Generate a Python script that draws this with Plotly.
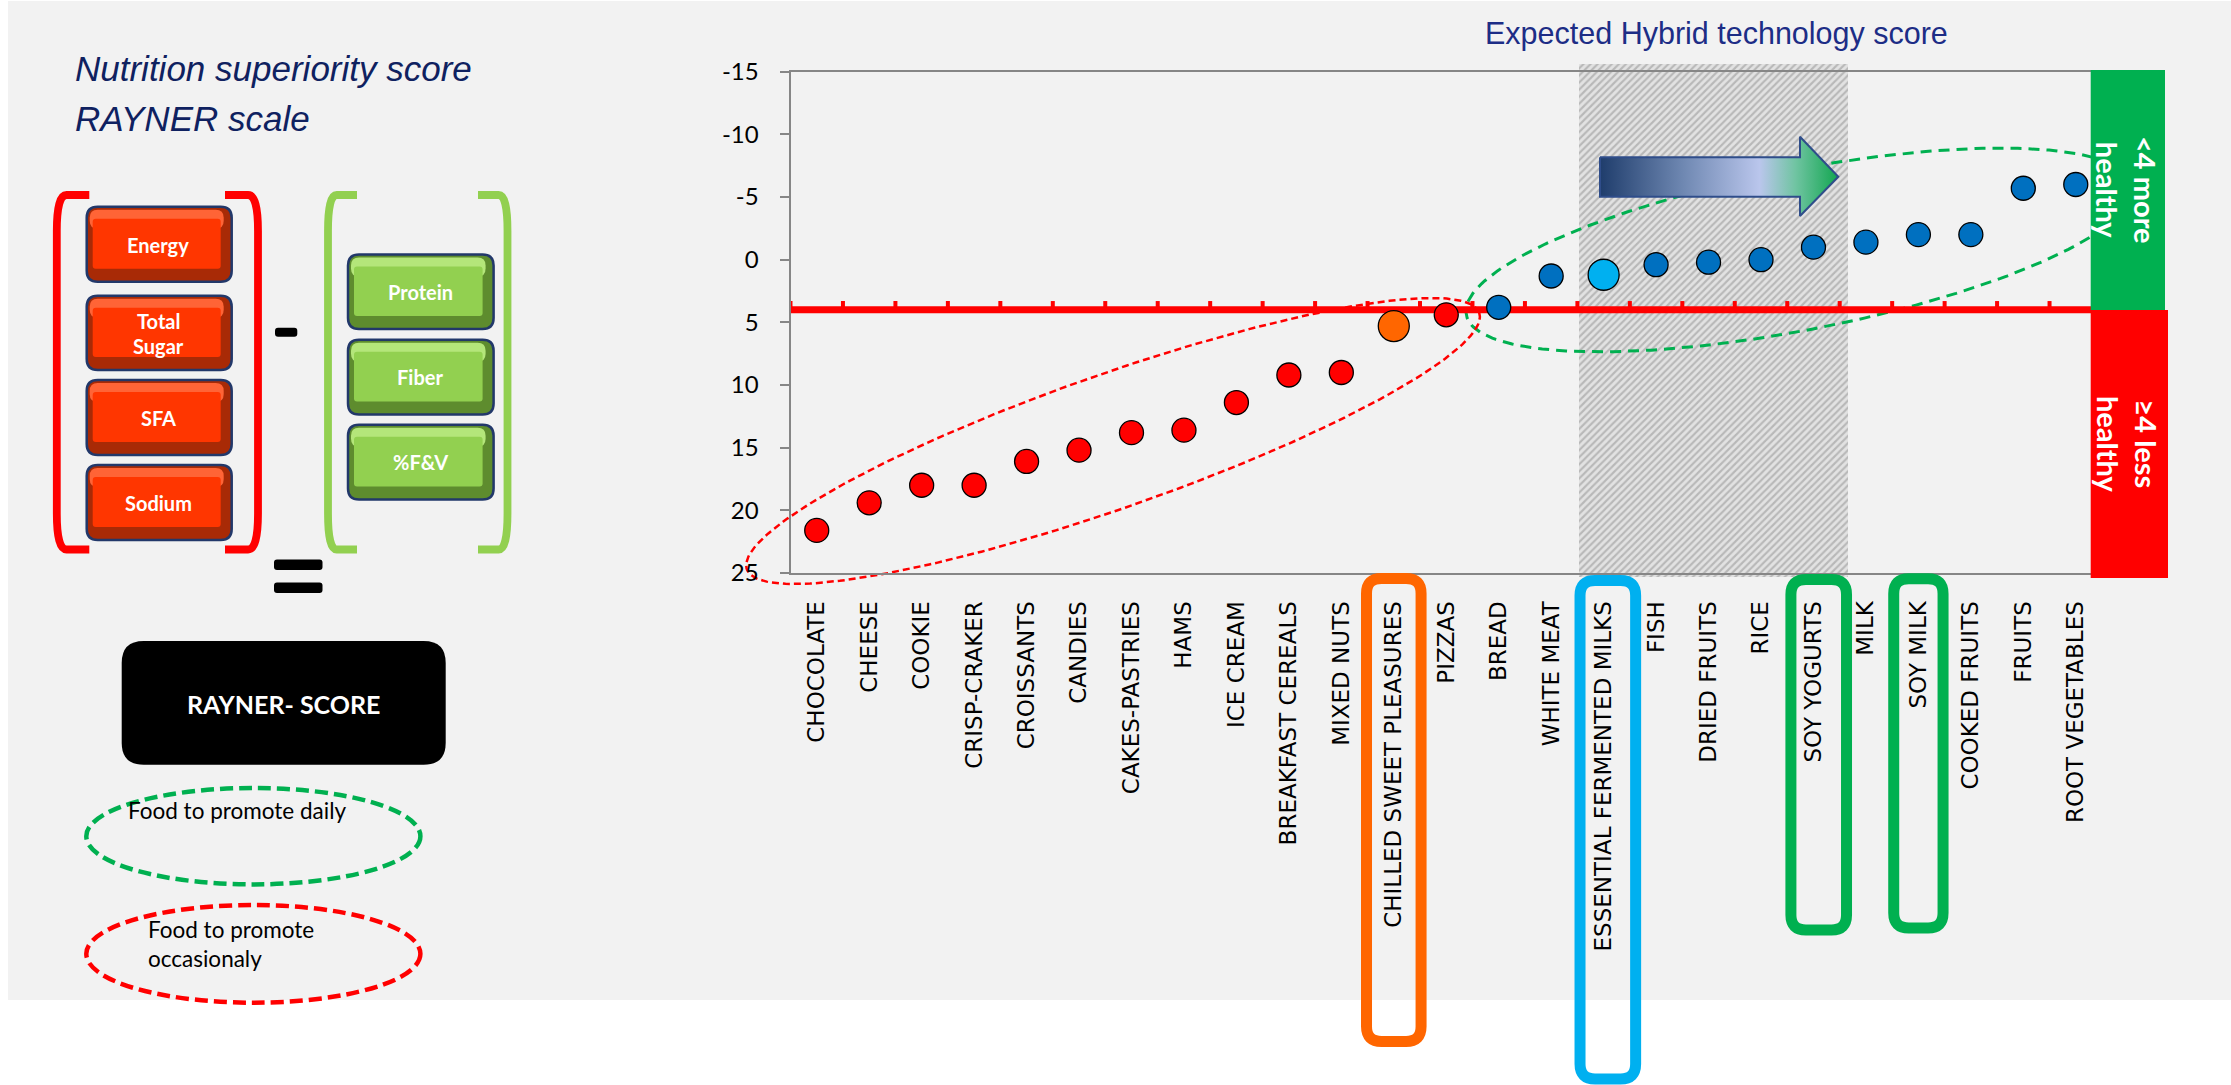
import numpy as np
import plotly.graph_objects as go

W, H = 2231, 1085

# ---------------- data ----------------
categories = ["CHOCOLATE", "CHEESE", "COOKIE", "CRISP-CRAKER", "CROISSANTS", "CANDIES",
              "CAKES-PASTRIES", "HAMS", "ICE CREAM", "BREAKFAST CEREALS", "MIXED NUTS",
              "CHILLED SWEET PLEASURES", "PIZZAS", "BREAD", "WHITE MEAT",
              "ESSENTIAL FERMENTED MILKS", "FISH", "DRIED FRUITS", "RICE", "SOY YOGURTS",
              "MILK", "SOY MILK", "COOKED FRUITS", "FRUITS", "ROOT VEGETABLES"]
rayner_scores = [21.6, 19.4, 18.0, 18.0, 16.1, 15.2, 13.8, 13.6, 11.4, 9.2, 9.0,
                 5.3, 4.4, 3.8, 1.3, 1.2, 0.4, 0.2, 0.0, -1.0, -1.4, -2.0, -2.0, -5.7, -6.0]
threshold = 4
y_tick_values = [-15, -10, -5, 0, 5, 10, 15, 20, 25]
y_tick_labels = ["-15", "-10", "-5", "0", "5", "10", "15", "20", "25"]
negative_factors = ["Energy", "Total<br>Sugar", "SFA", "Sodium"]
positive_factors = ["Protein", "Fiber", "%F&V"]

# ---------------- styles ----------------
RED, BLUE, ORANGE, LBLUE = "#FF0000", "#0070C0", "#FF6600", "#00B0F0"
GREEN, LGREEN = "#00B050", "#92D050"
highlight = {"CHILLED SWEET PLEASURES": ORANGE, "ESSENTIAL FERMENTED MILKS": LBLUE}
colors = [highlight.get(c, RED if s >= threshold else BLUE) for c, s in zip(categories, rayner_scores)]
sizes = [31 if c in highlight else 24 for c in categories]

# main plot area in pixels
PX0, PX1, PY0, PY1 = 790.5, 2102.0, 71.7, 573.0
ncat = len(categories)


def rr(x0, y0, x1, y1, rx, ry=None):
    ry = rx if ry is None else ry
    return (f"M{x0+rx},{y0} L{x1-rx},{y0} Q{x1},{y0} {x1},{y0+ry} L{x1},{y1-ry} "
            f"Q{x1},{y1} {x1-rx},{y1} L{x0+rx},{y1} Q{x0},{y1} {x0},{y1-ry} "
            f"L{x0},{y0+ry} Q{x0},{y0} {x0+rx},{y0} Z")


def ellipse_xy(cx, cy, a, b, deg, n=240):
    t = np.linspace(0, 2 * np.pi, n)
    th = np.radians(deg)
    x = cx + a * np.cos(t) * np.cos(th) - b * np.sin(t) * np.sin(th)
    y = cy + a * np.cos(t) * np.sin(th) + b * np.sin(t) * np.cos(th)
    return x, y


fig = go.Figure()

# hatched "expected hybrid" band (pixel overlay axes, drawn under the chart)
fig.add_trace(go.Scatter(
    x=[1579, 1848, 1848, 1579, 1579], y=[64, 64, 577, 577, 64],
    mode="lines", line=dict(width=0), fill="toself",
    fillpattern=dict(shape="/", fgcolor="#8E8E8E", bgcolor="#E2E2E2", size=5, solidity=0.42),
    xaxis="x", yaxis="y", hoverinfo="skip"))

# green dashed ellipse around healthy foods
ex, ey = ellipse_xy(1800, 250, 340, 80, -11)
fig.add_trace(go.Scatter(x=ex, y=ey, mode="lines",
                         line=dict(color=GREEN, width=3, dash="11px,7px"),
                         xaxis="x", yaxis="y", hoverinfo="skip"))
# red dashed ellipse around less healthy foods
ex, ey = ellipse_xy(1113, 441, 388, 67, -19.3)
fig.add_trace(go.Scatter(x=ex, y=ey, mode="lines",
                         line=dict(color=RED, width=2.5, dash="7px,4px"),
                         xaxis="x", yaxis="y", hoverinfo="skip"))

# gradient arrow
fig.add_trace(go.Scatter(
    x=[1600, 1800, 1800, 1838.3, 1800, 1800, 1600, 1600],
    y=[157.3, 157.3, 136.7, 176.7, 216, 196.7, 196.7, 157.3],
    mode="lines", line=dict(color="#2F4D8A", width=2), fill="toself",
    fillgradient=dict(type="horizontal",
                      colorscale=[[0, "#1F3D6C"], [0.35, "#6F88B2"], [0.67, "#BAC6EC"],
                                  [0.82, "#70C4A2"], [1, "#12A650"]]),
    xaxis="x", yaxis="y", hoverinfo="skip"))

# the data points
fig.add_trace(go.Scatter(
    x=list(range(ncat)), y=rayner_scores, mode="markers",
    marker=dict(color=colors, size=sizes, opacity=1, line=dict(color="#000000", width=1.3)),
    xaxis="x2", yaxis="y2", hoverinfo="skip", cliponaxis=False))

shapes = []
# gray background panel
shapes.append(dict(type="rect", xref="paper", yref="paper", x0=8 / W, x1=1, y0=1 - 1000 / H, y1=1 - 1 / H,
                   fillcolor="#F2F2F2", line=dict(width=0), layer="below"))
# red threshold line with ticks
shapes.append(dict(type="line", xref="x2", yref="y2", x0=-0.5, x1=ncat - 0.5, y0=threshold, y1=threshold,
                   line=dict(color=RED, width=7), layer="below"))
for i in range(ncat + 1):
    shapes.append(dict(type="line", xref="x2", yref="y2", x0=i - 0.5, x1=i - 0.5,
                       y0=threshold, y1=threshold - 0.7, line=dict(color=RED, width=4), layer="below"))

# healthy / less healthy bars
shapes.append(dict(type="rect", xref="x", yref="y", x0=2090.7, x1=2165, y0=70, y1=310,
                   fillcolor=GREEN, line=dict(width=0), layer="above"))
shapes.append(dict(type="rect", xref="x", yref="y", x0=2090.7, x1=2168, y0=310, y1=578,
                   fillcolor=RED, line=dict(width=0), layer="above"))


# brackets
def bracket(xv, xs, y0, y1, color):
    d = xs - xv
    return dict(type="path", xref="x", yref="y", layer="above",
                path=(f"M{xs},{y0} L{xv + d*0.3},{y0} Q{xv},{y0} {xv},{y0+36} "
                      f"L{xv},{y1-36} Q{xv},{y1} {xv + d*0.3},{y1} L{xs},{y1}"),
                line=dict(color=color, width=7.8))


shapes.append(bracket(56.8, 89.3, 195, 549.5, RED))
shapes.append(bracket(258, 225, 195, 549.5, RED))
shapes.append(bracket(328, 357, 195, 549.5, LGREEN))
shapes.append(bracket(507.5, 478, 195, 549.5, LGREEN))


# bevelled boxes
def bevel(x0, y0, x1, y1, dark, light, face):
    return [
        dict(type="path", xref="x", yref="y", layer="above", path=rr(x0, y0, x1, y1, 11),
             fillcolor=dark, line=dict(color="#22386A", width=2.5)),
        dict(type="path", xref="x", yref="y", layer="above",
             path=rr(x0 + 3, y0 + 3, x1 - 8, y0 + 22, 8),
             fillcolor=light, line=dict(width=0)),
        dict(type="path", xref="x", yref="y", layer="above",
             path=rr(x0 + 6, y0 + 12, x1 - 11, y1 - 13, 3),
             fillcolor=face, line=dict(width=0)),
    ]


red_rows = [(206.7, 281.7), (295.7, 370), (380, 455), (465, 540)]
green_rows = [(254.5, 329), (339.8, 414.5), (424.8, 499.4)]
for (a, b) in red_rows:
    shapes += bevel(86.7, a, 231.7, b, "#A82A06", "#FF6436", "#FF3600")
for (a, b) in green_rows:
    shapes += bevel(348, a, 493.6, b, "#5E8C2E", "#B4E67A", "#92D050")

# minus and equals signs
shapes.append(dict(type="path", xref="x", yref="y", layer="above", path=rr(275, 327.7, 297.3, 336.7, 3),
                   fillcolor="#000000", line=dict(width=0)))
shapes.append(dict(type="path", xref="x", yref="y", layer="above", path=rr(274, 559.5, 322.5, 570, 3),
                   fillcolor="#000000", line=dict(width=0)))
shapes.append(dict(type="path", xref="x", yref="y", layer="above", path=rr(274, 582.5, 322.5, 593, 3),
                   fillcolor="#000000", line=dict(width=0)))
# black score box
shapes.append(dict(type="path", xref="x", yref="y", layer="above", path=rr(121.7, 641, 445.7, 764.7, 22),
                   fillcolor="#000000", line=dict(width=0)))
# legend ellipses
shapes.append(dict(type="circle", xref="x", yref="y", layer="above", x0=86.3, x1=420.4, y0=788, y1=884.4,
                   line=dict(color=GREEN, width=4.5, dash="13px,6px")))
shapes.append(dict(type="circle", xref="x", yref="y", layer="above", x0=86.3, x1=420.4, y0=905, y1=1002.7,
                   line=dict(color=RED, width=4.5, dash="13px,6px")))


# highlight frames around category labels (x in category units, y in paper)
def label_frame(xc, half, ytop, ybot, color):
    rx = 15 / ((PX1 - PX0) / ncat)
    return dict(type="path", xref="x2", yref="paper", layer="above",
                path=rr(xc - half, 1 - ytop / H, xc + half, 1 - ybot / H, rx, -15 / H),
                line=dict(color=color, width=11))


shapes.append(label_frame(categories.index("CHILLED SWEET PLEASURES"), 0.52, 578.4, 1041.5, ORANGE))
shapes.append(label_frame(categories.index("ESSENTIAL FERMENTED MILKS") + 0.08, 0.53, 580.5, 1079, LBLUE))
shapes.append(label_frame(categories.index("SOY YOGURTS") + 0.1, 0.53, 579.5, 930, GREEN))
shapes.append(label_frame(categories.index("SOY MILK"), 0.47, 578.7, 928, GREEN))

annotations = []
SANS = "Liberation Sans, Arial"


def ann(text, x, y, size, color="#000000", family="Lato", xanchor="center", angle=0):
    annotations.append(dict(text=text, x=x, y=y, xref="x", yref="y", showarrow=False,
                            xanchor=xanchor, yanchor="middle", textangle=angle,
                            font=dict(family=family, size=size, color=color)))


ann("<i>Nutrition superiority score</i>", 73, 68, 35, "#0F2160", SANS, "left")
ann("<i>RAYNER scale</i>", 73, 118, 35, "#0F2160", SANS, "left")
ann("Expected Hybrid technology score", 1482.7, 33, 30.5, "#1D2D86", SANS, "left")

for lab, (a, b) in zip(negative_factors, red_rows):
    if "<br>" in lab:
        top, bot = lab.split("<br>")
        ann(f"<b>{top}</b>", 158, 320.5, 20, "#FFFFFF")
        ann(f"<b>{bot}</b>", 158, 345.5, 20, "#FFFFFF")
    else:
        ann(f"<b>{lab}</b>", 158, (a + b) / 2 + 0.5, 20, "#FFFFFF")
for lab, (a, b) in zip(positive_factors, green_rows):
    ann(f"<b>{lab}</b>", 420.3, (a + b) / 2, 20, "#FFFFFF")

ann("<b>RAYNER- SCORE</b>", 283.3, 704, 25, "#FFFFFF")
ann("Food to promote daily", 126, 810, 22.5, "#000000", "Lato", "left")
ann("Food to promote", 146, 929, 22.5, "#000000", "Lato", "left")
ann("occasionaly", 146, 958, 22.5, "#000000", "Lato", "left")
ann("<b>&lt;4 more<br>healthy</b>", 2127, 190, 29, "#FFFFFF", "Lato", "center", 90)
ann("<b>≥4 less<br>healthy</b>", 2128, 444, 29, "#FFFFFF", "Lato", "center", 90)

fig.update_layout(
    width=W, height=H, autosize=False,
    margin=dict(l=0, r=0, t=0, b=0, pad=0),
    paper_bgcolor="#FFFFFF", plot_bgcolor="rgba(0,0,0,0)",
    showlegend=False, hovermode=False,
    shapes=shapes, annotations=annotations,
    xaxis=dict(domain=[0, 1], range=[0, W], visible=False, fixedrange=True, automargin=False),
    yaxis=dict(domain=[0, 1], range=[H, 0], visible=False, fixedrange=True, automargin=False),
    xaxis2=dict(domain=[PX0 / W, PX1 / W], anchor="y2", range=[-0.5, ncat - 0.5],
                tickmode="array", tickvals=list(range(ncat)), ticktext=categories,
                tickangle=-90, tickfont=dict(family="DejaVu Sans", size=23, color="#000000"),
                showline=True, linecolor="#868686", linewidth=2, mirror=True, automargin=False,
                showgrid=False, zeroline=False, ticks="", ticklabelstandoff=17),
    yaxis2=dict(domain=[1 - PY1 / H, 1 - PY0 / H], anchor="x2", range=[25, -15],
                tickmode="array", tickvals=y_tick_values, ticktext=y_tick_labels,
                tickfont=dict(family="Lato", size=24, color="#000000"),
                ticks="outside", ticklen=9, tickwidth=2, tickcolor="#868686", automargin=False,
                showline=True, linecolor="#868686", linewidth=2, mirror=True,
                showgrid=False, zeroline=False, ticklabelstandoff=16),
)

fig.write_html("out.html")
